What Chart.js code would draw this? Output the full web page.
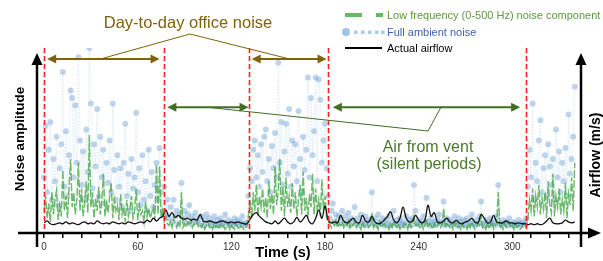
<!DOCTYPE html>
<html><head><meta charset="utf-8">
<script src="https://cdn.jsdelivr.net/npm/chart.js@4/dist/chart.umd.min.js"></script>
<style>html,body{margin:0;padding:0;background:#fff;}#wrap{width:603px;height:261px;}</style>
</head><body><div id="wrap"><canvas id="c" width="603" height="261"></canvas></div>
<script>
// ---- data ----
const NOISE_STEP = 1;    // seconds between noise samples
const AIRFLOW_STEP = 2;  // seconds between airflow samples
const fullNoise = [
30,58,22,45,60,18,40,28,52,15, 35,48,87,25,55,20,42,77,73,30, 69,38,95,50,26,44,18,56,33,100,
70,24,48,36,67,20,52,30,45,16, 38,27,50,22,70,34,18,42,25,35, 14,38,59,20,32,12,40,24,30,65,
22,35,15,42,18,28,12,45,20,33, 14,26,38,18,46,22,12,25,10,18, 8,14,6,18,9,12,5,10,27,8,
12,6,10,15,5,9,7,11,6,8, 5,9,4,7,10,5,8,4,6,9, 4,7,5,8,4,6,10,5,7,4,
6,4,8,5,7,4,6,9,5,4, 6,20,35,28,45,50,30,42,25,48, 33,52,56,28,40,22,47,35,54,30,
92,38,60,26,44,59,32,67,25,50, 36,48,28,66,40,22,52,34,45,84, 30,73,42,55,84,28,83,72,38,50,
59,35,20,8,12,16,6,10,5,9, 7,12,5,9,6,11,4,8,6,14, 5,8,4,10,6,5,9,4,7,6,
22,5,8,4,10,6,5,8,4,7, 5,9,4,6,12,5,7,4,8,5, 6,4,9,5,7,4,8,26,12,5,
7,4,6,9,5,19,6,4,8,5, 6,4,7,10,5,6,17,4,8,5, 7,4,6,9,5,4,8,6,4,7,
5,8,4,6,10,5,4,7,5,9, 17,5,4,7,6,4,8,5,6,4, 9,26,5,4,7,5,6,4,8,5,
4,6,5,4,7,5,4,6,5,8, 25,45,30,70,18,38,28,50,61,22, 35,42,20,48,36,26,40,18,56,30,
44,22,38,28,46,20,64,32,40,52, 79];
const lowFreqNoise = [
12,20,8,16,6,22,10,18,23,7, 15,9,34,12,20,8,25,40,14,22, 10,18,38,12,24,9,16,28,11,53,
14,22,8,19,12,25,10,17,32,9, 16,11,20,27,8,18,12,15,7,21, 10,14,6,18,9,13,20,8,12,24,
7,15,10,12,6,17,9,13,8,11, 14,7,37,10,36,8,12,6,9,5, 4,6,3,8,5,3,6,4,22,3,
5,3,6,4,7,3,5,4,6,3, 4,3,5,2,4,6,3,4,2,5, 3,4,2,5,3,4,2,3,5,2,
4,3,2,5,3,2,4,3,2,3, 4,10,18,8,22,12,26,9,20,14, 24,11,19,8,28,13,21,10,36,15,
22,40,12,25,9,30,14,20,11,27, 13,22,9,18,26,10,33,12,19,8, 21,14,32,10,24,12,18,9,29,13,
20,8,6,5,3,6,4,7,3,5, 4,6,3,5,4,7,3,5,4,6, 3,5,4,2,6,3,4,5,3,4,
11,3,5,4,2,6,3,4,5,3, 4,2,5,3,6,4,3,5,2,4, 3,5,4,2,6,3,4,9,3,5,
4,3,5,2,4,8,3,5,4,2, 5,3,4,6,3,4,13,3,5,4, 3,5,2,4,6,3,4,2,5,3,
4,2,5,3,6,4,2,3,5,4, 9,3,4,2,5,3,4,6,2,4, 5,22,3,4,2,5,3,4,6,3,
4,2,5,3,4,2,3,5,4,3, 8,18,12,24,9,20,14,26,10,19, 13,22,8,28,15,11,32,9,20,14,
24,10,18,12,27,8,21,15,30,12, 38];
const airflow = [
5.5,6.5,5,4.5,5,5.5,5,6,5,5.5, 5,4.5,5.5,6,5,5.5,5,6.5,5.5,5,
5.5,5,6,5.5,5,5.5,5,6,5.5,5, 5.5,6,5.5,7,6,8,6.5,8,9,12.5,
9,11,8.5,9.5,8,7.5,8,7,7.5,7, 10,6.5,6,6.5,6,5.5,6,6.5,6,5.5,
6,5.5,6,5.5,5,5,7.5,10,11,9, 7.5,6,5.5,5,6.5,5,6.5,8,6,5,
6,8.5,6,7.5,9.5,6,5,8,12.4,8, 14.5,7,5.5,6,5.5,9.5,6.5,5.5,6.5,8,
6,5.5,9.5,6.5,6,9,6,5,5.5,7, 9,11.5,7,5.5,8,14,8,6,6.5,9.5,
7,5.5,7,15,9,11,6,5.5,6.5,8, 6,5.5,7,5.5,5,6,6.5,8,6,5.5,
10,8,5.5,6,9.5,6,5.5,5.5,6.5,5.5, 5.5,5,5.5,5,5,4.5,5,4.5,5,4.5,
5,6.5,8,5.5,5,5,5.5,7,6,5.5, 6];
const timeTicks = [0,12,24,36,48,60,72,84,96,108,120,132,144,156,168,180,192,204,216,228,240,252,264,276,288,300,312,324,336];
const timeLabels = [0,60,120,180,240,300];
const periodBounds = [0,77,131,182,309];
const officeSpans = [[2,74],[133,181]];
const ventSpans = [[79,131],[185,305]];

const FONT = '"Liberation Sans", Arial, Helvetica, sans-serif';
const BROWN = '#7f6209';
const DGREEN = '#416d24';

function head(ctx, tx, ty, dx, dy, len, half){
  const px = -dy, py = dx;
  ctx.beginPath();
  ctx.moveTo(tx, ty);
  ctx.lineTo(tx - dx*len + px*half, ty - dy*len + py*half);
  ctx.lineTo(tx - dx*len - px*half, ty - dy*len - py*half);
  ctx.closePath(); ctx.fill();
}
function dblArrow(ctx, x1, x2, y, color){
  ctx.strokeStyle = color; ctx.fillStyle = color; ctx.lineWidth = 2;
  ctx.beginPath(); ctx.moveTo(x1+6, y); ctx.lineTo(x2-6, y); ctx.stroke();
  head(ctx, x1, y, -1, 0, 9, 4.5);
  head(ctx, x2, y, 1, 0, 9, 4.5);
}
function polyline(ctx, pts, color, w){
  ctx.strokeStyle = color; ctx.lineWidth = w; ctx.beginPath();
  pts.forEach((p,i)=> i ? ctx.lineTo(p[0],p[1]) : ctx.moveTo(p[0],p[1]));
  ctx.stroke();
}

const decor = {
  id: 'decor',
  afterDraw(chart){
    const {ctx, chartArea: a, scales: {x, y}} = chart;
    const ds = chart.data.datasets;
    ctx.save();
    // period boundaries
    ctx.strokeStyle = '#ff1c1c'; ctx.lineWidth = 1.6; ctx.setLineDash([5,3]);
    periodBounds.forEach(t => {
      const px = Math.round(x.getPixelForValue(t)) + 0.5;
      ctx.beginPath(); ctx.moveTo(px, a.top); ctx.lineTo(px, a.bottom); ctx.stroke();
    });
    ctx.setLineDash([]);
    // axes with arrows
    ctx.strokeStyle = '#000'; ctx.fillStyle = '#000'; ctx.lineWidth = 2.5;
    const yb = a.bottom;
    ctx.beginPath(); ctx.moveTo(18, yb); ctx.lineTo(590, yb); ctx.stroke();
    head(ctx, 601, yb, 1, 0, 13, 5.5);
    [a.left - 1, a.right].forEach(ax => {
      ctx.beginPath(); ctx.moveTo(ax, 247); ctx.lineTo(ax, 62); ctx.stroke();
      head(ctx, ax, 53, 0, -1, 12, 5.5);
    });
    // annotations: office noise
    const arrowY1 = y.getPixelForValue(94), arrowY2 = y.getPixelForValue(68);
    officeSpans.forEach(s => dblArrow(ctx, x.getPixelForValue(s[0]), x.getPixelForValue(s[1]), arrowY1, BROWN));
    polyline(ctx, [[100, arrowY1],[190,34],[290, arrowY1]], BROWN, 1);
    ctx.fillStyle = BROWN; ctx.font = '16.5px ' + FONT; ctx.textAlign = 'center'; ctx.textBaseline = 'alphabetic';
    ctx.fillText('Day-to-day office noise', 188, 28);
    // annotations: vent
    ventSpans.forEach(s => dblArrow(ctx, x.getPixelForValue(s[0]), x.getPixelForValue(s[1]), arrowY2, DGREEN));
    polyline(ctx, [[207, arrowY2],[428,131],[441, arrowY2]], DGREEN, 1);
    ctx.fillStyle = '#4b7a2c'; ctx.font = '16px ' + FONT;
    ctx.fillText('Air from vent', 428, 152);
    ctx.fillText('(silent periods)', 429, 169);
    // legend
    ctx.textAlign = 'left'; ctx.font = '11px ' + FONT;
    ctx.lineWidth = 4; ctx.strokeStyle = 'rgba(95,180,95,0.95)';
    ctx.beginPath(); ctx.moveTo(345,15); ctx.lineTo(362,15); ctx.moveTo(376,15); ctx.lineTo(383,15); ctx.stroke();
    ctx.fillStyle = '#5a9a3c'; ctx.fillText(ds[1].label, 387, 19);
    ctx.fillStyle = 'rgba(150,190,225,0.9)';
    ctx.beginPath(); ctx.arc(346, 32, 4, 0, Math.PI*2); ctx.fill();
    ctx.fillStyle = 'rgba(165,198,230,0.95)';
    [354,361,368,375,381].forEach(px => ctx.fillRect(px, 30.5, 3.5, 3.5));
    ctx.fillStyle = '#3e63b0'; ctx.fillText(ds[2].label, 387, 35.5);
    ctx.lineWidth = 2.2; ctx.strokeStyle = '#000';
    ctx.beginPath(); ctx.moveTo(345,48); ctx.lineTo(382,48); ctx.stroke();
    ctx.fillStyle = '#000'; ctx.fillText(ds[0].label, 387, 52);
    // axis titles
    ctx.font = 'bold 14.5px ' + FONT; ctx.textAlign = 'center';
    ctx.fillText('Time (s)', 283, 257);
    ctx.save(); ctx.translate(23.5, 139); ctx.rotate(-Math.PI/2);
    ctx.font = 'bold 13.5px ' + FONT; ctx.fillText('Noise amplitude', 0, 0); ctx.restore();
    ctx.save(); ctx.translate(600, 155); ctx.rotate(-Math.PI/2);
    ctx.font = 'bold 14px ' + FONT; ctx.fillText('Airflow (m/s)', 0, 0); ctx.restore();
    ctx.restore();
  }
};

new Chart(document.getElementById('c').getContext('2d'), {
  type: 'line',
  data: { datasets: [
    { label: 'Actual airflow', yAxisID: 'y2',
      data: airflow.map((v,i)=>({x: i*AIRFLOW_STEP, y: v})),
      borderColor: '#111', borderWidth: 1.3, pointRadius: 0, tension: 0.4, order: 0 },
    { label: 'Low frequency (0-500 Hz) noise component', yAxisID: 'y',
      data: lowFreqNoise.map((v,i)=>({x: i*NOISE_STEP, y: v})),
      borderColor: 'rgba(72,168,72,0.8)', borderWidth: 1.5, borderDash: [8,2], pointRadius: 0, tension: 0, order: 1 },
    { label: 'Full ambient noise', yAxisID: 'y',
      data: fullNoise.map((v,i)=>({x: i*NOISE_STEP, y: v})),
      borderColor: 'rgba(170,202,232,0.35)', borderWidth: 1.3, borderDash: [1.5,1.5],
      pointRadius: 3, pointBorderWidth: 0, pointBackgroundColor: 'rgba(95,150,205,0.4)', tension: 0, order: 2 }
  ]},
  options: {
    responsive: false, animation: false, devicePixelRatio: 1,
    layout: { padding: { left: 0, right: 0, top: 48, bottom: 0 } },
    plugins: { legend: { display: false }, tooltip: { enabled: false } },
    scales: {
      x: { type: 'linear', min: -3.9, max: 344,
        afterBuildTicks: s => { s.ticks = timeTicks.map(v => ({ value: v })); },
        afterFit: s => { s.height = 28; },
        ticks: { callback: v => timeLabels.includes(v) ? String(v) : '', autoSkip: false, maxRotation: 0,
          font: { size: 10, family: FONT }, color: '#333', padding: 3 },
        grid: { drawOnChartArea: false, drawTicks: true, tickLength: 5, color: '#000', lineWidth: 1.5 },
        border: { display: false } },
      y: { position: 'left', min: 0, max: 100, afterFit: s => { s.width = 38; },
        ticks: { display: false }, grid: { display: false }, border: { display: false } },
      y2: { position: 'right', min: 0, max: 100, afterFit: s => { s.width = 22; },
        ticks: { display: false }, grid: { display: false }, border: { display: false } }
    }
  },
  plugins: [decor]
});
</script></body></html>
